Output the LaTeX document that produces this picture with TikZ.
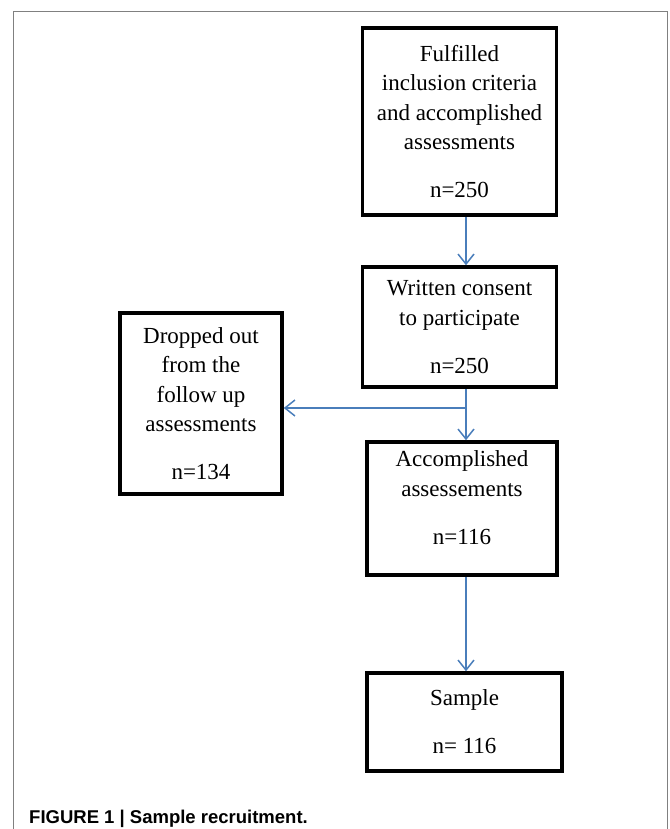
\documentclass[tikz,border=0pt]{standalone}
\usepackage{fontspec}
\setmainfont{Liberation Serif}
\newfontfamily\capfont{Liberation Sans}
\usetikzlibrary{arrows.meta}
\definecolor{arrowblue}{RGB}{74,126,187}

\begin{document}
\begin{tikzpicture}[x=1pt,y=-1pt,
    box/.style={draw,line width=3.5pt,rectangle,align=center,inner sep=0pt,
      font=\fontsize{23}{29.5}\selectfont},
    flow/.style={draw=arrowblue,line width=1.5pt,
      -{Straight Barb[length=10pt,width=16pt,line width=1.5pt]}}]
      \useasboundingbox (0,0) rectangle (669,829);
      \draw[gray,line width=1pt] (13,829) -- (13,12) -- (667,12) -- (667,829);

      \node[box,minimum width=194pt,minimum height=187pt] (crit) at (459.5,121.5)
        {Fulfilled\\inclusion criteria\\and accomplished\\assessments\\[18.5pt]n=250};
      \node[box,minimum width=194pt,minimum height=120pt] (consent) at (459.5,327)
        {Written consent\\to participate\\[18.5pt]n=250};
      \node[box,minimum width=162pt,minimum height=181pt] (drop) at (201,403.5)
        {Dropped out\\from the\\follow up\\assessments\\[18.5pt]n=134};
      \node[box,minimum width=190pt,minimum height=133pt] (done) at (462,508.5)
        {Accomplished\\assessements\\[18.5pt]n=116\\[-8pt]};
      \node[box,minimum width=195pt,minimum height=98pt] (sample) at (464.5,722)
        {Sample\\[18.5pt]n= 116};

      \coordinate (split) at (466,408);

      \draw[flow] (crit.south -| split) -- (consent.north -| split);
      \draw[arrowblue,line width=1.5pt] (consent.south -| split) -- (split);
      \draw[flow] (split) -- (done.north -| split);
      \draw[flow] (split) -- (split -| drop.east);
      \draw[flow] (done.south -| split) -- (sample.north -| split);

      \node[anchor=base west,inner sep=0pt,font={\capfont\bfseries\fontsize{18.5}{21}\selectfont}]
        (caption) at (29,823) {FIGURE 1 | Sample recruitment.};
\end{tikzpicture}
\end{document}
